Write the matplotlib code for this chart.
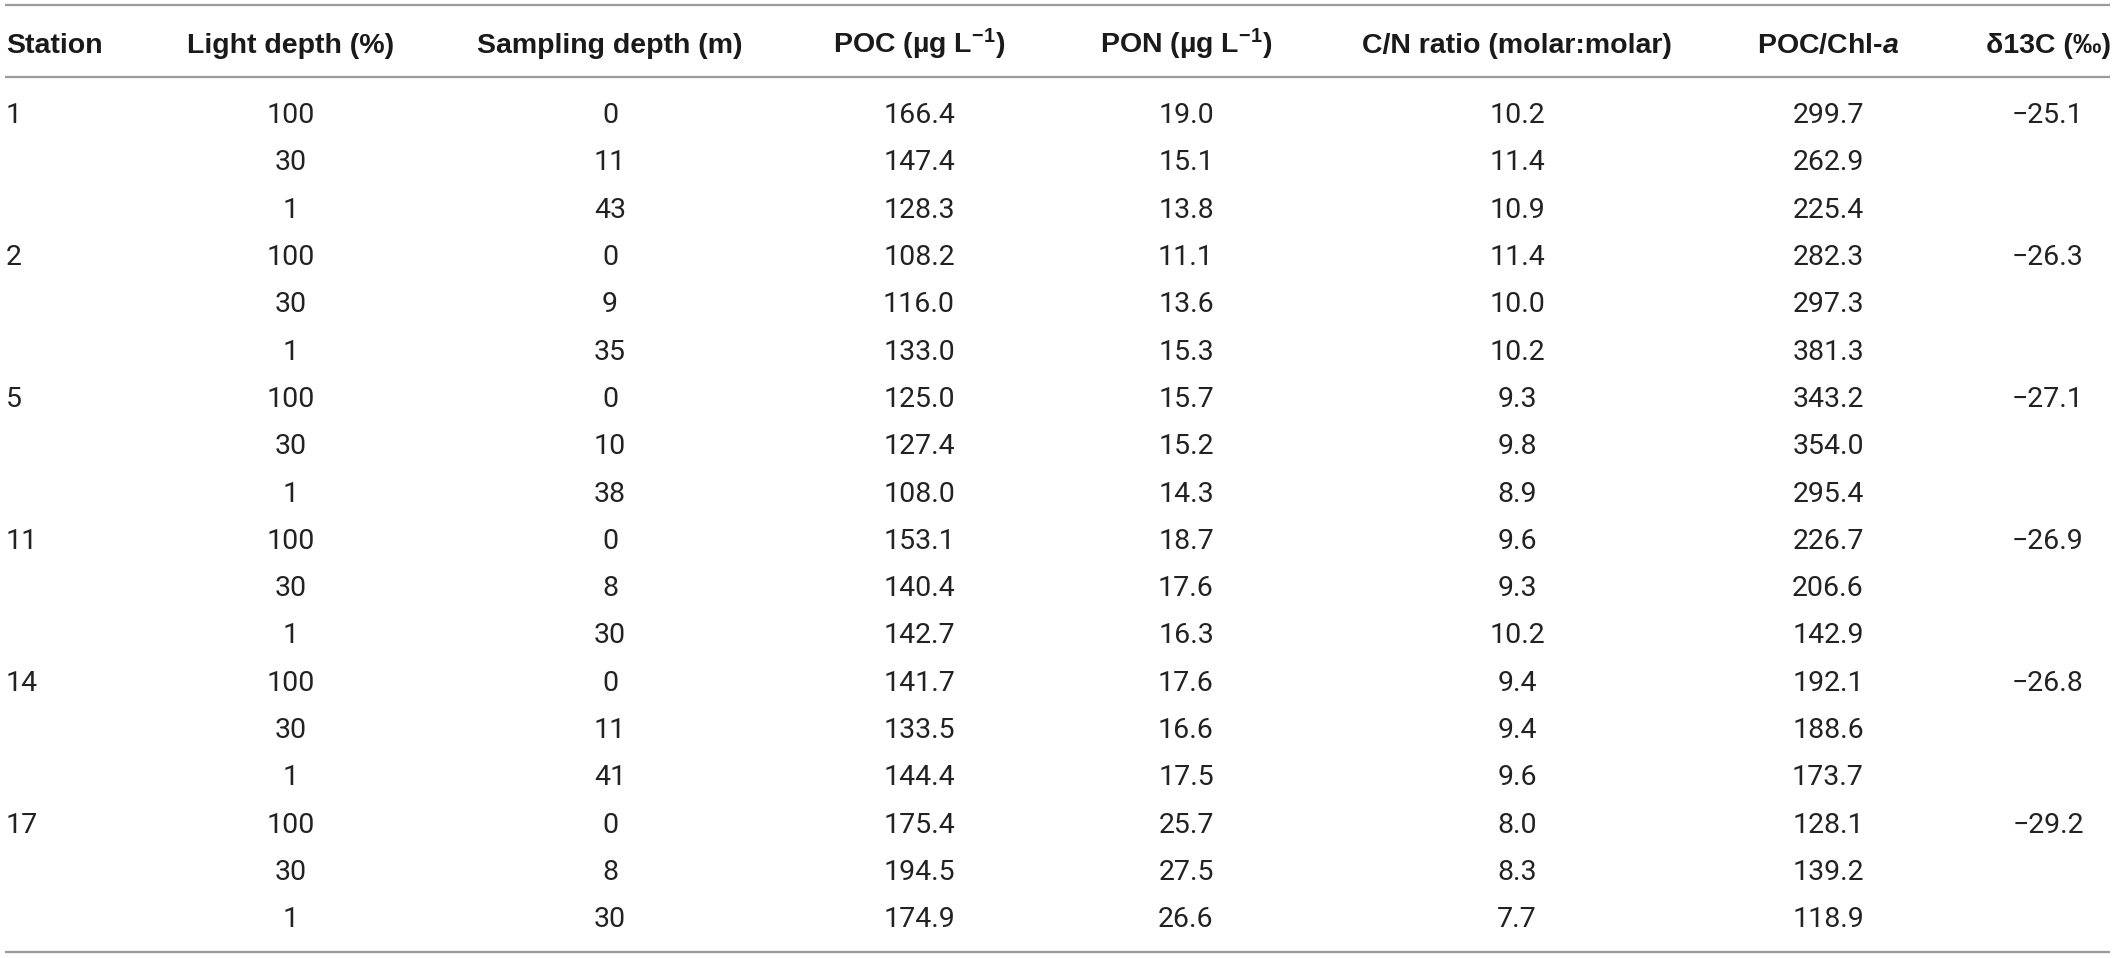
import matplotlib
matplotlib.use("Agg")
import matplotlib.pyplot as plt

# ---- data ----
headers = ["Station", "Light depth (%)", "Sampling depth (m)",
           r"POC (µg L$^{\mathbf{-1}}$)", r"PON (µg L$^{\mathbf{-1}}$)",
           "C/N ratio (molar:molar)", r"POC/Chl-$\mathit{a}$", "δ13C (‰)"]
station = ["1", "", "", "2", "", "", "5", "", "", "11", "", "", "14", "", "", "17", "", ""]
light_depth = [100, 30, 1, 100, 30, 1, 100, 30, 1, 100, 30, 1, 100, 30, 1, 100, 30, 1]
sampling_depth = [0, 11, 43, 0, 9, 35, 0, 10, 38, 0, 8, 30, 0, 11, 41, 0, 8, 30]
poc = [166.4, 147.4, 128.3, 108.2, 116.0, 133.0, 125.0, 127.4, 108.0,
       153.1, 140.4, 142.7, 141.7, 133.5, 144.4, 175.4, 194.5, 174.9]
pon = [19.0, 15.1, 13.8, 11.1, 13.6, 15.3, 15.7, 15.2, 14.3,
       18.7, 17.6, 16.3, 17.6, 16.6, 17.5, 25.7, 27.5, 26.6]
cn_ratio = [10.2, 11.4, 10.9, 11.4, 10.0, 10.2, 9.3, 9.8, 8.9,
            9.6, 9.3, 10.2, 9.4, 9.4, 9.6, 8.0, 8.3, 7.7]
poc_chl = [299.7, 262.9, 225.4, 282.3, 297.3, 381.3, 343.2, 354.0, 295.4,
           226.7, 206.6, 142.9, 192.1, 188.6, 173.7, 128.1, 139.2, 118.9]
d13c = [-25.1, None, None, -26.3, None, None, -27.1, None, None,
        -26.9, None, None, -26.8, None, None, -29.2, None, None]

# ---- layout ----
W, H, DPI = 2117, 958, 100
plt.rcParams["mathtext.fontset"] = "custom"
plt.rcParams["mathtext.rm"] = "Liberation Sans"
plt.rcParams["mathtext.bf"] = "Liberation Sans:bold"
plt.rcParams["mathtext.it"] = "Liberation Sans:italic:bold"

fig = plt.figure(figsize=(W / DPI, H / DPI), dpi=DPI)
ax = fig.add_axes([0, 0, 1, 1])
ax.set_xlim(0, W)
row0, rowh = 113.0, 47.3
ax.set_ylim((H - row0) / rowh, -row0 / rowh)
ax.axis("off")

col_x = [6, 291, 610, 919, 1186, 1517, 1828, 2048]
col_ha = ["left"] + ["center"] * 7
fs = 20.5
hdr_color = "#1a1a1a"
txt_color = "#222222"
line_color = "#9a9a9a"

def prow(px):
    return (px - row0) / rowh

# lines
for py in (5, 77, 952):
    ax.plot([5, 2110], [prow(py), prow(py)], color=line_color, lw=1.6,
            solid_capstyle="butt")

# header
cap_off = 0.215
for x, ha, h in zip(col_x, col_ha, headers):
    ax.text(x, prow(43) + cap_off, h, ha=ha, va="baseline", fontsize=fs,
            fontweight="bold", family="Liberation Sans", color=hdr_color)

def fmt(v):
    if v is None or v == "":
        return ""
    if isinstance(v, str):
        return v
    if isinstance(v, int):
        return str(v)
    s = f"{v:.1f}"
    return s.replace("-", "\u2212")

columns = [station, light_depth, sampling_depth, poc, pon, cn_ratio, poc_chl, d13c]
for ci, col in enumerate(columns):
    for ri, v in enumerate(col):
        s = fmt(v)
        if not s:
            continue
        ax.text(col_x[ci], ri + cap_off, s, ha=col_ha[ci], va="baseline",
                fontsize=fs, fontweight="normal", family="Roboto", color=txt_color)

fig.savefig("out.png", dpi=DPI, facecolor="white")
